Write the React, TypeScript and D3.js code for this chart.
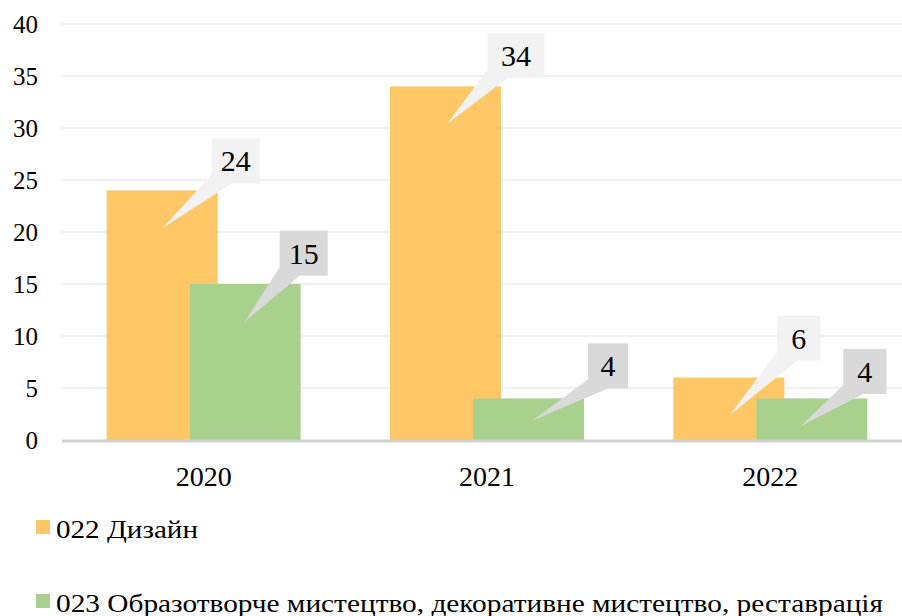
import * as d3 from "d3";

const years = ["2020", "2021", "2022"];
const seriesNames = ["022 Дизайн", "023 Образотворче мистецтво, декоративне мистецтво, реставрація"];
const design = [24, 34, 6];
const fineArts = [15, 4, 4];
const yTicks = [0, 5, 10, 15, 20, 25, 30, 35, 40];

const colors = ["#FFC766", "#A9D18E"];
const calloutFill = ["#F2F2F2", "#D9D9D9"];

// callout placement relative to bar top centre: [boxLeft dx, boxTop dy, box width, tip dx, tip dy]
const calloutLayout = [
  [[49.5, -52, 48, 0.5, 37.6], [42, -53.4, 57, 2, 37], [48.5, -62, 43, 0.5, 38]],
  [[34.5, -53.3, 48, -0.5, 37.7], [59.5, -55, 40, 4, 22], [31.5, -49.4, 43, -11, 27.6]],
];
const legendWidths = [142, 827];

const W = 902;
const H = 616;
const margin = { top: 24, right: -10, bottom: 176, left: 62 };
const font = { fontFamily: "'Liberation Serif', 'Times New Roman', serif" };

export default function App() {
  const x0 = d3.scaleBand().domain(years).range([margin.left, W - margin.right]);
  const x1 = d3.scaleBand().domain(["0", "1"]).range([-97, 69]);
  const barW = 111;
  const y = d3.scaleLinear().domain([0, 40]).range([H - margin.bottom, margin.top]);
  const series = [design, fineArts];

  return (
    <svg width={W} height={H} style={{ position: "absolute", left: 0, top: 0, background: "#fff" }}>
      {yTicks.slice(1).map((t) => (
        <line key={t} x1={margin.left} x2={W} y1={y(t)} y2={y(t)} stroke="#F0F0F0" strokeWidth={2} />
      ))}
      {yTicks.map((t) => (
        <text key={t} x={38} y={y(t)} dy="0.35em" textAnchor="end" style={font} fontSize={25} fill="#000">
          {t}
        </text>
      ))}
      {series.map((vals, s) =>
        vals.map((v, i) => {
          const x = x0(years[i])! + x0.bandwidth() / 2 + x1(String(s))!;
          return <rect key={`${s}-${i}`} x={x} y={y(v)} width={barW} height={y(0) - y(v)} fill={colors[s]} />;
        })
      )}
      <line x1={margin.left} x2={W} y1={y(0) + 1} y2={y(0) + 1} stroke="#D0D0D0" strokeWidth={3} />
      {years.map((yr) => (
        <text key={yr} x={x0(yr)! + x0.bandwidth() / 2} y={486} textAnchor="middle" style={font} fontSize={28} fill="#000">
          {yr}
        </text>
      ))}
      {series.map((vals, s) =>
        vals.map((v, i) => {
          const cx = x0(years[i])! + x0.bandwidth() / 2 + x1(String(s))! + barW / 2;
          const top = y(v);
          const [bdx, bdy, bw, tdx, tdy] = calloutLayout[s][i];
          const bx = cx + bdx;
          const by = top + bdy;
          const bh = 45;
          const tip: [number, number] = [cx + tdx, top + tdy];
          const wedge = `M${bx + 1},${by + bh - 10} L${bx + 20},${by + bh} L${tip[0]},${tip[1]} Z`;
          return (
            <g key={`c-${s}-${i}`}>
              <path d={wedge} fill={calloutFill[s]} />
              <rect x={bx} y={by} width={bw} height={bh} fill={calloutFill[s]} />
              <text x={bx + bw / 2} y={by + bh / 2} dy="0.35em" textAnchor="middle" style={font} fontSize={30} fill="#000">
                {v}
              </text>
            </g>
          );
        })
      )}
      {seriesNames.map((name, s) => (
        <g key={name}>
          <rect x={36} y={520 + s * 74} width={14} height={14} fill={colors[s]} />
          <text
            x={56}
            y={538 + s * 74}
            style={font}
            fontSize={26}
            fill="#000"
            textLength={legendWidths[s]}
            lengthAdjust="spacingAndGlyphs"
          >
            {name}
          </text>
        </g>
      ))}
    </svg>
  );
}
